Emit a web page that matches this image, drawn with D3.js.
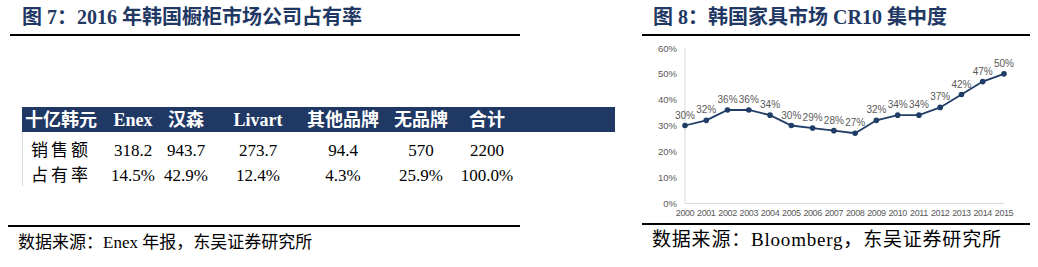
<!DOCTYPE html>
<html>
<head>
<meta charset="utf-8">
<script src="https://cdn.jsdelivr.net/npm/d3@7"></script>
<style>
  body { margin: 0; background: #fff; }
  svg { display: block; }
</style>
</head>
<body>
<svg id="fig" width="1038" height="267"></svg>
<script>
// ---------- data ----------
var tableHeader = ["十亿韩元", "Enex", "汉森", "Livart", "其他品牌", "无品牌", "合计"];
var salesRow = ["销售额", "318.2", "943.7", "273.7", "94.4", "570", "2200"];
var shareRow = ["占有率", "14.5%", "42.9%", "12.4%", "4.3%", "25.9%", "100.0%"];

var years = ["2000", "2001", "2002", "2003", "2004", "2005", "2006", "2007",
  "2008", "2009", "2010", "2011", "2012", "2013", "2014", "2015"];
var cr10 = [30, 32, 36, 36, 34, 30, 29, 28, 27, 32, 34, 34, 37, 42, 47, 50];
var yTicks = [0, 10, 20, 30, 40, 50, 60];

var serif = "'Liberation Serif', 'Times New Roman', 'Noto Sans CJK SC', serif";
var navy = "#1f3864";

var svg = d3.select("#fig");

/******************* titles, rules, sources *******************/
svg.append("text").attr("x", 22).attr("y", 24)
  .attr("font-family", serif).attr("font-weight", "bold").attr("font-size", 20)
  .attr("fill", navy).text("图 7：2016 年韩国橱柜市场公司占有率");

svg.append("text").attr("x", 653).attr("y", 24)
  .attr("font-family", serif).attr("font-weight", "bold").attr("font-size", 20)
  .attr("fill", navy).text("图 8：韩国家具市场 CR10 集中度");

[[10, 520, 35], [642, 1030, 35], [8, 520, 226], [642, 1030, 224]].forEach(function(r) {
  svg.append("line").attr("x1", r[0]).attr("x2", r[1]).attr("y1", r[2]).attr("y2", r[2])
    .attr("stroke", "#000").attr("stroke-width", 2.2);
});

svg.append("text").attr("x", 18).attr("y", 248)
  .attr("font-family", serif).attr("font-size", 17).attr("fill", "#000")
  .text("数据来源：Enex 年报，东吴证券研究所");

svg.append("text").attr("x", 652).attr("y", 246)
  .attr("font-family", serif).attr("font-size", 19).attr("letter-spacing", 0.8)
  .attr("fill", "#000")
  .text("数据来源：Bloomberg，东吴证券研究所");

/******************* table (left) *******************/
var colX = d3.scaleOrdinal()
  .domain(d3.range(tableHeader.length))
  .range([61, 133, 186, 258, 343, 421, 487]);

var table = svg.append("g");

table.append("rect").attr("x", 22).attr("y", 107).attr("width", 593).attr("height", 25)
  .attr("fill", navy);

table.append("line").attr("x1", 22.5).attr("x2", 22.5).attr("y1", 132).attr("y2", 186)
  .attr("stroke", "#d9d9d9").attr("stroke-width", 1);

table.selectAll(".hd").data(tableHeader).enter().append("text")
  .attr("class", "hd")
  .attr("x", function(d, i) { return colX(i); })
  .attr("y", 126)
  .attr("text-anchor", "middle")
  .attr("font-family", serif).attr("font-weight", "bold").attr("font-size", 18)
  .attr("fill", "#fff")
  .text(function(d) { return d; });

[[salesRow, 156], [shareRow, 181]].forEach(function(row) {
  table.selectAll(null).data(row[0]).enter().append("text")
    .attr("x", function(d, i) { return colX(i); })
    .attr("y", row[1])
    .attr("text-anchor", "middle")
    .attr("font-family", serif).attr("font-size", 17)
    .attr("letter-spacing", function(d, i) { return i === 0 ? 3 : 0; })
    .attr("fill", "#000")
    .text(function(d) { return d; });
});

/******************* line chart (right) *******************/
var xScale = d3.scalePoint().domain(years).range([685, 1004]);
var yScale = d3.scaleLinear().domain([0, 60]).range([203, 48]);

var chart = svg.append("g");
var axisFont = "Arial, 'Liberation Sans', sans-serif";

chart.append("line").attr("x1", 685).attr("x2", 685).attr("y1", yScale(60)).attr("y2", yScale(0))
  .attr("stroke", "#d9d9d9");
chart.append("line").attr("x1", 685).attr("x2", 1004).attr("y1", yScale(0) + 0.5).attr("y2", yScale(0) + 0.5)
  .attr("stroke", "#d9d9d9");

chart.selectAll(".yt").data(yTicks).enter().append("text")
  .attr("class", "yt")
  .attr("x", 677)
  .attr("y", function(d) { return yScale(d) + 3.5; })
  .attr("text-anchor", "end")
  .attr("font-family", axisFont).attr("font-size", 9.5).attr("fill", "#595959")
  .text(function(d) { return d + "%"; });

chart.selectAll(".xt").data(years).enter().append("text")
  .attr("class", "xt")
  .attr("x", function(d) { return xScale(d); })
  .attr("y", 216)
  .attr("text-anchor", "middle")
  .attr("font-family", axisFont).attr("font-size", 9).attr("letter-spacing", -0.4)
  .attr("fill", "#595959")
  .text(function(d) { return d; });

var pts = years.map(function(y, i) { return { year: y, v: cr10[i] }; });

var plotLine = d3.line()
  .x(function(d) { return xScale(d.year); })
  .y(function(d) { return yScale(d.v); });

chart.append("path").datum(pts)
  .attr("d", plotLine)
  .attr("fill", "none").attr("stroke", "#1f3d66").attr("stroke-width", 1.8);

chart.selectAll(".pt").data(pts).enter().append("circle")
  .attr("class", "pt")
  .attr("cx", function(d) { return xScale(d.year); })
  .attr("cy", function(d) { return yScale(d.v); })
  .attr("r", 2.8)
  .attr("fill", "#1f3d66");

chart.selectAll(".lb").data(pts).enter().append("text")
  .attr("class", "lb")
  .attr("x", function(d) { return xScale(d.year); })
  .attr("y", function(d) { return yScale(d.v) - 7; })
  .attr("text-anchor", "middle")
  .attr("font-family", axisFont).attr("font-size", 10).attr("fill", "#595959")
  .text(function(d) { return d.v + "%"; });
</script>
</body>
</html>
